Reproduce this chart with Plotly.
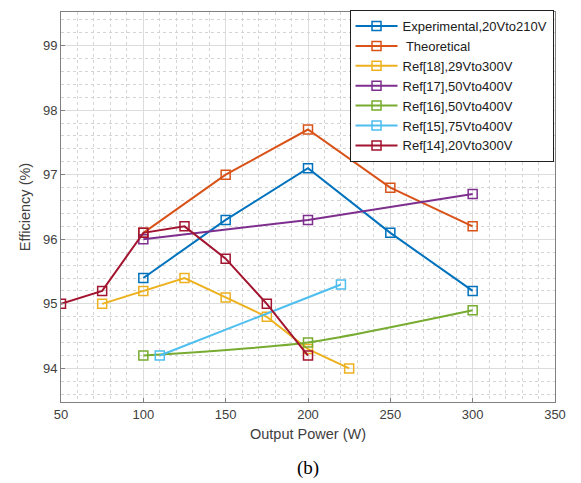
import plotly.graph_objects as go

names = ["Experimental,20Vto210V", " Theoretical", "Ref[18],29Vto300V",
         "Ref[17],50Vto400V", "Ref[16],50Vto400V", "Ref[15],75Vto400V", "Ref[14],20Vto300V"]
colors = ["#0072BD", "#D95319", "#EDB120", "#7E2F8E", "#77AC30", "#4DBEEE", "#A2142F"]

exp_x = [100, 150, 200, 250, 300]
exp_y = [95.4, 96.3, 97.1, 96.1, 95.2]
theo_x = [100, 150, 200, 250, 300]
theo_y = [96.1, 97.0, 97.7, 96.8, 96.2]
r18_x = [75, 100, 125, 150, 175, 200, 225]
r18_y = [95.0, 95.2, 95.4, 95.1, 94.8, 94.3, 94.0]
r17_x = [100, 200, 300]
r17_y = [96.0, 96.3, 96.7]
r16_x = [100, 200, 300]
r16_y = [94.2, 94.4, 94.9]
r15_x = [110, 220]
r15_y = [94.2, 95.3]
r14_x = [50, 75, 100, 125, 150, 175, 200]
r14_y = [95.0, 95.2, 96.1, 96.2, 95.7, 95.0, 94.2]

series = [(exp_x, exp_y), (theo_x, theo_y), (r18_x, r18_y), (r17_x, r17_y),
          (r16_x, r16_y), (r15_x, r15_y), (r14_x, r14_y)]

fig = go.Figure()
for i, ((xs, ys), n, c) in enumerate(zip(series, names, colors)):
    shape = "spline" if i == 4 else "linear"
    fig.add_trace(go.Scatter(x=xs, y=ys, name=n, mode="lines+markers",
                             line=dict(color=c, width=2, shape=shape, smoothing=0.6),
                             marker=dict(symbol="square-open", size=9, color=c, line=dict(width=1.5))))

axis_common = dict(showline=True, linecolor="#808080", linewidth=1, mirror=True,
                   showgrid=True, gridcolor="#dcdcdc", gridwidth=1,
                   ticks="inside", ticklen=4, tickcolor="#808080",
                   tickfont=dict(family="Arial", size=13, color="#404040"),
                   zeroline=False)
fig.update_xaxes(range=[50, 350], dtick=50, **axis_common,
                 minor=dict(dtick=10, showgrid=True, gridcolor="#d4d4d4", griddash="dot", gridwidth=1),
                 title=dict(text="Output Power (W)", font=dict(family="Arial", size=14.5, color="#404040"), standoff=8))
fig.update_yaxes(range=[93.48, 99.52], tickvals=[94, 95, 96, 97, 98, 99], **axis_common,
                 minor=dict(dtick=0.2, showgrid=True, gridcolor="#d4d4d4", griddash="dot", gridwidth=1),
                 title=dict(text="Efficiency (%)", font=dict(family="Arial", size=14.5, color="#404040"), standoff=8))

fig.update_layout(
    width=581, height=483,
    margin=dict(l=61, r=26, t=10, b=81),
    plot_bgcolor="white", paper_bgcolor="white",
    showlegend=True,
    legend=dict(x=0.997, y=1.005, xanchor="right", yanchor="top",
                bgcolor="white", bordercolor="#202020", borderwidth=1,
                font=dict(family="Arial", size=13, color="#202020"),
                tracegroupgap=0, itemwidth=42),
    annotations=[dict(text="(b)", x=0.5, y=-0.168, xref="paper", yref="paper",
                      showarrow=False, yanchor="middle",
                      font=dict(family="Liberation Serif", size=19, color="black"))]
)

fig.write_html("out.html")
